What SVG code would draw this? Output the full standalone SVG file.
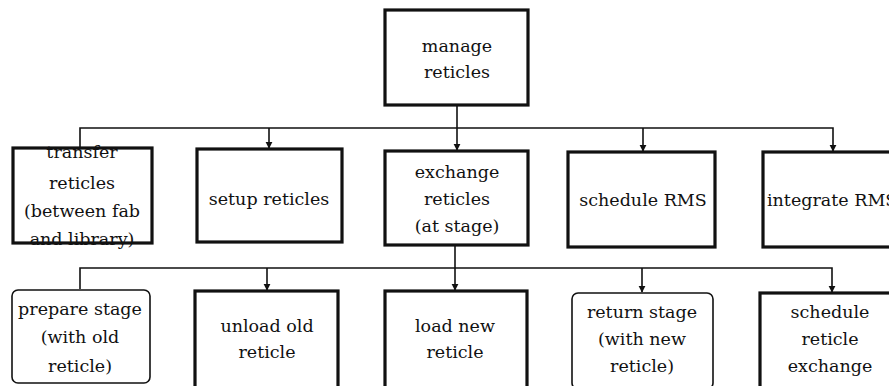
<svg xmlns="http://www.w3.org/2000/svg" width="889" height="386" viewBox="0 0 889 386">
  <style>
    .box { fill: #fff; stroke: #111; stroke-width: 3.2; }
    .frame { fill: none; stroke: #111; stroke-width: 3.2; }
    .soft { fill: #fff; stroke: #111; stroke-width: 1.6; }
    .lbl { font-family: "DejaVu Serif", "Liberation Serif", serif; font-size: 17.5px; fill: #111; text-anchor: middle; }
    .lbl.left { text-anchor: start; }
    .wire { fill: none; stroke: #111; stroke-width: 1.6; }
  </style>
  <defs>
    <marker id="arr" viewBox="0 0 10 10" refX="9" refY="5" markerWidth="4.5" markerHeight="4.5" orient="auto">
      <path d="M0,0 L10,5 L0,10 z" fill="#111"/>
    </marker>
  </defs>
  <rect width="889" height="386" fill="#fff"/>

  <g id="connectors">
    <line class="wire" x1="457" y1="105" x2="457" y2="150" marker-end="url(#arr)"/>
    <polyline class="wire" points="80,147 80,128 833,128 833,151" marker-end="url(#arr)"/>
    <line class="wire" x1="269" y1="128" x2="269" y2="148" marker-end="url(#arr)"/>
    <line class="wire" x1="643" y1="128" x2="643" y2="151" marker-end="url(#arr)"/>
    <line class="wire" x1="455" y1="245" x2="455" y2="290" marker-end="url(#arr)"/>
    <polyline class="wire" points="80,289 80,268 832,268 832,292" marker-end="url(#arr)"/>
    <line class="wire" x1="267" y1="268" x2="267" y2="290" marker-end="url(#arr)"/>
    <line class="wire" x1="642" y1="268" x2="642" y2="292" marker-end="url(#arr)"/>
  </g>

  <g id="manage-reticles">
    <rect class="box" x="385" y="10" width="143" height="95"/>
    <text class="lbl" x="457" y="52">manage</text>
    <text class="lbl" x="457" y="78">reticles</text>
  </g>

  <g id="transfer-reticles">
    <rect x="13" y="148" width="139" height="95" fill="#fff"/>
    <text class="lbl" x="82" y="158">transfer</text>
    <text class="lbl" x="82" y="189">reticles</text>
    <text class="lbl" x="82" y="217">(between fab</text>
    <text class="lbl" x="82" y="245">and library)</text>
    <rect class="frame" x="13" y="148" width="139" height="95"/>
  </g>

  <g id="setup-reticles">
    <rect class="box" x="197" y="149" width="145" height="93"/>
    <text class="lbl" x="269" y="205">setup reticles</text>
  </g>

  <g id="exchange-reticles">
    <rect class="box" x="385" y="151" width="143" height="94"/>
    <text class="lbl" x="457" y="178">exchange</text>
    <text class="lbl" x="457" y="205">reticles</text>
    <text class="lbl" x="457" y="232">(at stage)</text>
  </g>

  <g id="schedule-rms">
    <rect class="box" x="568" y="152" width="147" height="95"/>
    <text class="lbl" x="643" y="206">schedule RMS</text>
  </g>

  <g id="integrate-rms">
    <rect class="box" x="763" y="152" width="140" height="95"/>
    <text class="lbl left" x="767" y="206">integrate RMS</text>
  </g>

  <g id="prepare-stage">
    <rect class="soft" x="12" y="290" width="138" height="93" rx="6"/>
    <text class="lbl" x="80" y="315">prepare stage</text>
    <text class="lbl" x="80" y="343">(with old</text>
    <text class="lbl" x="80" y="372">reticle)</text>
  </g>

  <g id="unload-old-reticle">
    <rect class="box" x="195" y="291" width="143" height="100"/>
    <text class="lbl" x="267" y="332">unload old</text>
    <text class="lbl" x="267" y="358">reticle</text>
  </g>

  <g id="load-new-reticle">
    <rect class="box" x="385" y="291" width="142" height="100"/>
    <text class="lbl" x="455" y="332">load new</text>
    <text class="lbl" x="455" y="358">reticle</text>
  </g>

  <g id="return-stage">
    <rect class="soft" x="572" y="293" width="141" height="96" rx="6"/>
    <text class="lbl" x="642" y="318">return stage</text>
    <text class="lbl" x="642" y="345">(with new</text>
    <text class="lbl" x="642" y="372">reticle)</text>
  </g>

  <g id="schedule-reticle-exchange">
    <rect class="box" x="760" y="293" width="140" height="100"/>
    <text class="lbl" x="830" y="318">schedule</text>
    <text class="lbl" x="830" y="345">reticle</text>
    <text class="lbl" x="830" y="372">exchange</text>
  </g>
</svg>
